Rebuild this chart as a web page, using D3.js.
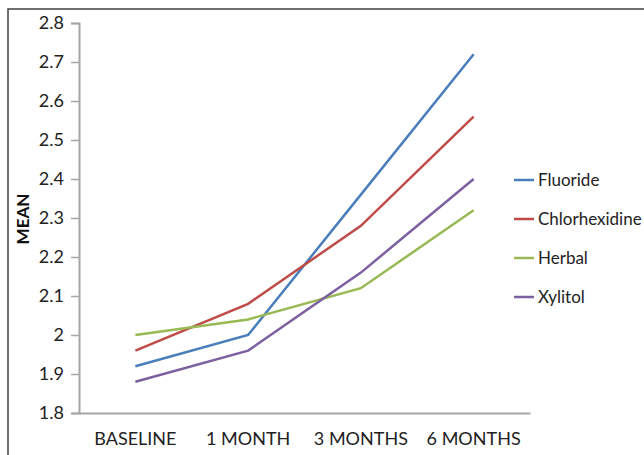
<!DOCTYPE html>
<html><head><meta charset="utf-8">
<script src="https://cdn.jsdelivr.net/npm/d3@7"></script>
<style>body{margin:0;background:#fff}svg{display:block}text{font-family:Lato,"Open Sans",sans-serif}</style>
</head><body>
<svg id="c" width="644" height="455"></svg>
<script>
const categories = ["BASELINE", "1 MONTH", "3 MONTHS", "6 MONTHS"];
const seriesNames = ["Fluoride", "Chlorhexidine", "Herbal", "Xylitol"];
const fluoride = [1.92, 2.00, 2.36, 2.72];
const chlorhexidine = [1.96, 2.08, 2.28, 2.56];
const herbal = [2.00, 2.04, 2.12, 2.32];
const xylitol = [1.88, 1.96, 2.16, 2.40];
const yTicks = [1.8, 1.9, 2, 2.1, 2.2, 2.3, 2.4, 2.5, 2.6, 2.7, 2.8];
const colors = ["#4A7EBB", "#BE4B48", "#98B954", "#7D60A0"];
const series = [fluoride, chlorhexidine, herbal, xylitol];

const svg = d3.select("#c");
svg.append("rect").attr("x", 8).attr("y", 9).attr("width", 700).attr("height", 500)
  .attr("fill", "none").attr("stroke", "#404040").attr("stroke-width", 1.5);

const x = d3.scaleBand().domain(categories).range([79, 530]);
const y = d3.scaleLinear().domain([1.8, 2.8]).range([413, 23]);

const axisColor = "#A6A6A6";
const gy = svg.append("g").attr("transform", "translate(79,0)")
  .call(d3.axisLeft(y).tickValues(yTicks).tickFormat(d => d3.format("")(+d.toFixed(1))).tickSize(8).tickPadding(7));
gy.select(".domain").attr("stroke", axisColor).attr("stroke-width", 2);
gy.selectAll(".tick line").attr("stroke", axisColor).attr("stroke-width", 1.5);
gy.selectAll("text").attr("font-size", 18).attr("fill", "#222");

const gx = svg.append("g").attr("transform", "translate(0,413)")
  .call(d3.axisBottom(x).tickSize(0).tickPadding(19));
gx.select(".domain").attr("stroke", axisColor).attr("stroke-width", 2);
gx.selectAll("text").attr("font-size", 18).attr("fill", "#222");

svg.append("text").attr("transform", "translate(29,219) rotate(-90)")
  .attr("text-anchor", "middle").attr("font-size", 17).attr("font-weight", "bold").attr("fill", "#111").text("MEAN");

const line = d3.line().x((d, i) => x(categories[i]) + x.bandwidth() / 2).y(d => y(d));
series.forEach((s, k) => {
  svg.append("path").datum(s).attr("d", line).attr("fill", "none")
    .attr("stroke", colors[k]).attr("stroke-width", 2.5);
});

const leg = svg.append("g");
seriesNames.forEach((n, k) => {
  const yy = 180 + k * 39;
  leg.append("line").attr("x1", 514).attr("x2", 534).attr("y1", yy).attr("y2", yy)
    .attr("stroke", colors[k]).attr("stroke-width", 2.5);
  leg.append("text").attr("x", 538).attr("y", yy).attr("dy", "0.35em")
    .attr("font-size", 17).attr("fill", "#222").text(n);
});
</script>
</body></html>
